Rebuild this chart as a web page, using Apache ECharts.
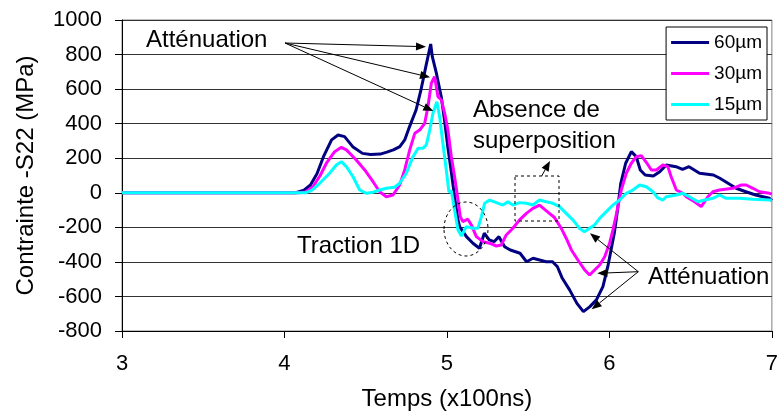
<!doctype html>
<html>
    <head>
        <meta charset="utf-8">
        <title>Contrainte -S22</title>
        <script src="https://cdn.jsdelivr.net/npm/echarts@6/dist/echarts.min.js"></script>
        <style>
            html, body { margin: 0; padding: 0; background: #fff; }
            #main { width: 781px; height: 416px; }
        </style>
    </head>
    <body>
        <div id="main"></div>
        <script>
            // [temps (x100ns), contrainte -S22 (MPa)]
            var seriesNames = ['60µm', '30µm', '15µm'];
            var seriesColors = ['#000080', '#ff00ff', '#00ffff'];

            var data60 = [
                [3, 0], [4.07, 0], [4.12, 15], [4.16, 45], [4.2, 110], [4.24, 209], [4.29, 306], [4.33, 334],
                [4.37, 325], [4.42, 267], [4.48, 228], [4.53, 222], [4.59, 224], [4.63, 235], [4.67, 248],
                [4.71, 267], [4.74, 306], [4.77, 383], [4.81, 479], [4.84, 595], [4.87, 730], [4.9, 861],
                [4.91, 788], [4.935, 692], [4.965, 556], [4.985, 421], [5.005, 267], [5.027, 120], [5.047, -23],
                [5.068, -157], [5.078, -196], [5.12, -254], [5.16, -292], [5.2, -321], [5.23, -234], [5.26, -273],
                [5.29, -283], [5.32, -254], [5.355, -312], [5.39, -331], [5.45, -350], [5.49, -399], [5.53, -379],
                [5.57, -389], [5.61, -399], [5.65, -399], [5.68, -428], [5.71, -495], [5.755, -562], [5.8, -640],
                [5.84, -688], [5.88, -659], [5.92, -620], [5.96, -543], [5.99, -428], [6.01, -331], [6.03, -234],
                [6.05, -100], [6.07, 55], [6.1, 171], [6.135, 238], [6.165, 209], [6.19, 132], [6.22, 103],
                [6.27, 97], [6.31, 122], [6.35, 161], [6.41, 151], [6.45, 136], [6.49, 151], [6.555, 113],
                [6.64, 103], [6.68, 84], [6.73, 55], [6.78, 26], [6.84, 6], [6.9, -13], [6.985, -32], [7, -45]
            ];

            var data30 = [
                [3, 0], [4.09, 0], [4.13, 5], [4.175, 35], [4.22, 100], [4.258, 171], [4.309, 238], [4.35, 263],
                [4.381, 248], [4.442, 190], [4.494, 132], [4.545, 64], [4.586, 6], [4.627, -23], [4.668, -13],
                [4.709, 45], [4.74, 132], [4.771, 248], [4.802, 344], [4.832, 363], [4.863, 402], [4.883, 498],
                [4.904, 634], [4.924, 672], [4.945, 556], [4.966, 537], [4.986, 460], [5.006, 363], [5.027, 209],
                [5.047, 93], [5.068, -42], [5.082, -138], [5.098, -167], [5.129, -153], [5.15, -186], [5.181, -254],
                [5.222, -283], [5.263, -292], [5.304, -308], [5.335, -302], [5.365, -244], [5.406, -205],
                [5.447, -157], [5.489, -119], [5.529, -90], [5.57, -71], [5.612, -105], [5.662, -143], [5.703, -205],
                [5.734, -263], [5.766, -331], [5.806, -389], [5.848, -447], [5.878, -476], [5.909, -447],
                [5.94, -418], [5.971, -370], [6.001, -292], [6.022, -215], [6.042, -128], [6.073, 16], [6.104, 113],
                [6.135, 171], [6.166, 209], [6.196, 215], [6.228, 175], [6.258, 132], [6.289, 132], [6.329, 161],
                [6.36, 151], [6.38, 93], [6.412, 16], [6.452, -3], [6.473, -23], [6.524, -52], [6.565, -80],
                [6.606, -23], [6.637, 6], [6.678, 16], [6.76, 26], [6.812, 45], [6.842, 45], [6.883, 26],
                [6.924, 6], [6.985, -3], [7, -8]
            ];

            var data15 = [
                [3, 0], [4.13, 0], [4.17, 15], [4.217, 55], [4.278, 113], [4.319, 161], [4.35, 180], [4.381, 151],
                [4.422, 93], [4.463, 16], [4.504, -3], [4.545, 3], [4.586, 16], [4.627, 26], [4.678, 32],
                [4.709, 55], [4.75, 113], [4.791, 209], [4.822, 257], [4.852, 257], [4.873, 277], [4.894, 363],
                [4.914, 460], [4.938, 527], [4.955, 440], [4.975, 286], [4.996, 132], [5.012, 6], [5.027, 10],
                [5.047, -100], [5.068, -215], [5.089, -250], [5.119, -196], [5.16, -205], [5.191, -205],
                [5.212, -138], [5.232, -61], [5.263, -42], [5.304, -57], [5.345, -71], [5.375, -52], [5.406, -71],
                [5.447, -57], [5.489, -61], [5.529, -71], [5.57, -42], [5.612, -52], [5.652, -61], [5.693, -80],
                [5.734, -119], [5.775, -157], [5.815, -205], [5.846, -225], [5.878, -205], [5.909, -186],
                [5.94, -148], [5.981, -109], [6.022, -71], [6.063, -42], [6.104, -3], [6.145, 16], [6.186, 45],
                [6.227, 35], [6.268, 6], [6.298, -30], [6.329, -42], [6.35, -23], [6.412, -13], [6.452, -3],
                [6.493, -23], [6.545, -52], [6.586, -42], [6.637, -32], [6.678, -13], [6.719, -32], [6.801, -32],
                [6.883, -38], [6.985, -42], [7, -42]
            ];

            var allData = [data60, data30, data15];

            var FONT = 'Liberation Sans, Arial, sans-serif';

            // annotation arrows, pixel positions
            function arrow(x1, y1, x2, y2) {
                var dx = x2 - x1, dy = y2 - y1;
                var len = Math.sqrt(dx * dx + dy * dy);
                var ux = dx / len, uy = dy / len;
                var hl = 10, hw = 4;
                var bx = x2 - ux * hl, by = y2 - uy * hl;
                return [{
                    type: 'line',
                    shape: { x1: x1, y1: y1, x2: bx, y2: by },
                    style: { stroke: '#000', lineWidth: 1 },
                    z: 100
                }, {
                    type: 'polygon',
                    shape: { points: [[x2, y2], [bx - uy * hw, by + ux * hw], [bx + uy * hw, by - ux * hw]] },
                    style: { fill: '#000' },
                    z: 100
                }];
            }

            function label(text, x, y) {
                return {
                    type: 'text',
                    z: 100,
                    style: {
                        text: text, x: x, y: y,
                        font: '24px ' + FONT,
                        fill: '#000',
                        align: 'left',
                        verticalAlign: 'middle'
                    }
                };
            }

            var graphics = [];
            graphics = graphics.concat(
                arrow(285, 43, 426, 46.7),
                arrow(285, 43, 430, 77.3),
                arrow(285, 43, 433.3, 111),
                arrow(541.7, 176, 550, 161),
                arrow(638.3, 271.7, 590, 233.3),
                arrow(638.3, 271.7, 597.3, 273.3),
                arrow(638.3, 271.7, 591.7, 309.3)
            );
            graphics.push(
                label('Atténuation', 146, 40),
                label('Absence de', 473, 110),
                label('superposition', 473, 141),
                label('Traction 1D', 297, 246),
                label('Atténuation', 648, 277),
                {
                    type: 'ellipse',
                    z: 100,
                    shape: { cx: 466, cy: 229, rx: 22, ry: 27 },
                    style: { fill: 'none', stroke: '#000', lineWidth: 1, lineDash: [3, 3] }
                },
                {
                    type: 'rect',
                    z: 100,
                    shape: { x: 515, y: 176, width: 44, height: 45 },
                    style: { fill: 'none', stroke: '#000', lineWidth: 1, lineDash: [3, 3] }
                }
            );

            var chart = echarts.init(document.getElementById('main'), null, {
                renderer: 'canvas',
                devicePixelRatio: 1
            });

            chart.setOption({
                animation: false,
                backgroundColor: '#fff',
                textStyle: { fontFamily: FONT },
                grid: {
                    left: 122,
                    right: 9,
                    top: 20,
                    bottom: 85,
                    show: true,
                    borderColor: '#808080',
                    borderWidth: 1
                },
                legend: {
                    orient: 'vertical',
                    right: 14,
                    top: 27,
                    icon: 'rect',
                    itemWidth: 38,
                    itemHeight: 3,
                    itemGap: 12,
                    padding: [6, 5, 6, 5],
                    borderColor: '#000',
                    borderWidth: 1,
                    backgroundColor: '#fff',
                    textStyle: { fontSize: 19, color: '#000', fontFamily: FONT },
                    data: seriesNames
                },
                xAxis: {
                    type: 'value',
                    min: 3,
                    max: 7,
                    interval: 1,
                    name: 'Temps (x100ns)',
                    nameLocation: 'middle',
                    nameGap: 56,
                    nameTextStyle: { fontSize: 24, color: '#000', fontFamily: FONT },
                    axisLine: { onZero: false, lineStyle: { color: '#000', width: 1 } },
                    axisTick: { show: true, length: 7, lineStyle: { color: '#000' } },
                    axisLabel: { fontSize: 22, color: '#000', margin: 22 },
                    splitLine: { show: false }
                },
                yAxis: {
                    type: 'value',
                    min: -800,
                    max: 1000,
                    interval: 200,
                    name: 'Contrainte -S22 (MPa)',
                    nameLocation: 'middle',
                    nameGap: 84,
                    nameTextStyle: { fontSize: 24, color: '#000', fontFamily: FONT },
                    axisLine: { show: true, lineStyle: { color: '#000', width: 1 } },
                    axisTick: { show: true, length: 7, lineStyle: { color: '#000' } },
                    axisLabel: {
                        fontSize: 22,
                        color: '#000',
                        margin: 20,
                        formatter: function (v) { return String(v); }
                    },
                    splitLine: { show: true, lineStyle: { color: '#333', width: 1 } }
                },
                series: seriesNames.map(function (name, i) {
                    return {
                        name: name,
                        type: 'line',
                        data: allData[i],
                        symbol: 'none',
                        smooth: false,
                        color: seriesColors[i],
                        lineStyle: { color: seriesColors[i], width: 3 }
                    };
                }),
                graphic: graphics
            });
        </script>
    </body>
</html>
